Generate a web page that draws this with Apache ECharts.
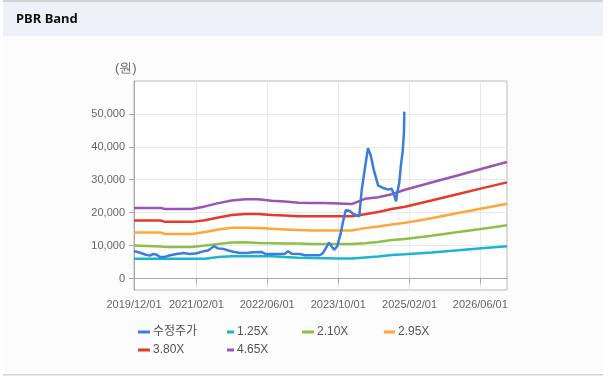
<!DOCTYPE html>
<html>
<head>
<meta charset="utf-8">
<script src="https://cdn.jsdelivr.net/npm/echarts@6/dist/echarts.min.js"></script>
<style>
html,body{margin:0;padding:0;background:#fff;}
#c{width:610px;height:381px;}
</style>
</head>
<body>
<div id="c"></div>
<script>
// ---- data ----
const seriesNames = ['수정주가', '1.25X', '2.10X', '2.95X', '3.80X', '4.65X'];
const xTickLabels = ['2019/12/01', '2021/02/01', '2022/06/01', '2023/10/01', '2025/02/01', '2026/06/01'];
const yTickValues = [0, 10000, 20000, 30000, 40000, 50000];

const priceDates = ['2019-12-01','2019-12-20','2020-01-12','2020-02-15','2020-03-19','2020-04-11','2020-05-04','2020-05-27','2020-06-30','2020-08-04','2020-09-19','2020-11-04','2020-12-19','2021-02-04','2021-03-19','2021-04-22','2021-06-01','2021-07-01','2021-08-04','2021-09-07','2021-10-11','2021-11-27','2022-01-12','2022-02-26','2022-04-22','2022-05-16','2022-06-19','2022-08-28','2022-10-01','2022-10-22','2022-11-15','2023-01-12','2023-02-15','2023-04-11','2023-05-27','2023-06-19','2023-07-16','2023-07-30','2023-08-16','2023-09-03','2023-09-24','2023-10-16','2023-11-04','2023-11-22','2023-12-19','2024-01-12','2024-02-22','2024-03-04','2024-03-10','2024-04-01','2024-04-22','2024-05-10','2024-06-01','2024-07-01','2024-08-04','2024-09-07','2024-10-01','2024-10-16','2024-11-01','2024-11-08','2024-11-22','2024-12-04','2024-12-16','2024-12-25','2024-12-27'];
const priceValues = [8300,8100,7800,7300,6950,7450,7250,6550,6550,7050,7450,7750,7450,7650,8250,8500,9800,9100,9000,8500,8100,7750,7750,7950,8050,7550,7450,7450,7550,8250,7550,7450,7050,7050,7050,7750,9800,10900,9800,8700,9800,13300,17500,20800,20500,19600,18900,19400,26900,33500,39600,37500,33000,28200,27500,27000,27300,25600,23400,26000,29000,34500,38600,44600,50700];

const bandDates = ['2019-12-01','2020-06-01','2020-07-01','2021-01-01','2021-04-01','2021-07-01','2021-10-01','2022-01-01','2022-04-01','2022-07-01','2022-10-01','2023-01-01','2023-04-01','2023-07-01','2023-10-01','2024-01-01','2024-04-01','2024-07-01','2024-10-01','2025-01-01','2025-07-01','2026-01-01','2026-07-01','2026-12-01'];
const band125 = [6000,6000,6000,6000,6000,6500,6750,6750,6750,6750,6500,6300,6200,6150,6100,6100,6400,6700,7100,7350,7900,8550,9250,9800];
const band210 = [10000,9700,9600,9600,10000,10500,10900,11000,10800,10700,10600,10600,10500,10500,10500,10500,10700,11100,11700,12000,13000,14100,15200,16150];
const band295 = [14000,14000,13500,13500,14100,14900,15400,15400,15300,15100,14900,14700,14600,14600,14600,14600,15300,15800,16400,16900,18300,19900,21400,22700];
const band380 = [17600,17600,17200,17200,17700,18500,19300,19600,19600,19300,19100,18900,18900,18900,18900,18900,19500,20200,21100,21800,23700,25650,27600,29200];
const band465 = [21400,21400,21100,21100,21900,22900,23700,24100,24100,23600,23400,23000,22900,22900,22800,22600,24200,24700,25600,26950,29150,31350,33550,35400];

const colors = ['#3b7dd8', '#1db4d0', '#8dbf4a', '#ffa63b', '#e6392d', '#9b55b3'];

// ---- helpers ----
function ts(s) { const p = s.split(/[-\/]/).map(Number); return Date.UTC(p[0], p[1] - 1, p[2]); }
function pad(n) { return n < 10 ? '0' + n : '' + n; }
function fmtDate(v) { const d = new Date(v); return d.getUTCFullYear() + '/' + pad(d.getUTCMonth() + 1) + '/' + pad(d.getUTCDate()); }
function zip(dates, vals) { return dates.map((d, i) => [ts(d), vals[i]]); }

const xTickValues = xTickLabels.map(ts);
const fontFam = "'Liberation Sans', Arial, 'Noto Sans CJK KR', sans-serif";

const bandVals = [band125, band210, band295, band380, band465];
const series = [];
bandVals.forEach((vals, i) => {
  series.push({
    name: seriesNames[i + 1], type: 'line', data: zip(bandDates, vals),
    showSymbol: false, symbol: 'none', lineStyle: { width: 2.5, color: colors[i + 1] },
    itemStyle: { color: colors[i + 1] }, z: 2, animation: false
  });
});
series.push({
  name: seriesNames[0], type: 'line', data: zip(priceDates, priceValues),
  showSymbol: false, symbol: 'none', lineStyle: { width: 2.5, color: colors[0] },
  itemStyle: { color: colors[0] }, z: 5, animation: false
});

const legendPos = [[138, 326, 12], [227, 326, 7], [302, 326, 12], [384, 326, 11], [138, 344, 12], [227, 344, 7]];
const legends = seriesNames.map((n, i) => ({
  data: [n], left: legendPos[i][0], top: legendPos[i][1],
  icon: 'rect', itemWidth: legendPos[i][2], itemHeight: 3, itemGap: 0, padding: 0,
  textStyle: { fontSize: 12, color: '#555', fontFamily: fontFam, padding: [0, 0, 0, -2] },
  selectedMode: false
}));

const chart = echarts.init(document.getElementById('c'), null, { renderer: 'canvas' });
chart.setOption({
  animation: false,
  backgroundColor: '#ffffff',
  title: {
    text: 'PBR Band', left: 16, top: 13, padding: 0,
    textStyle: { fontSize: 13, fontWeight: 'bold', color: '#111', fontFamily: "'Noto Sans', 'Noto Sans CJK KR', sans-serif" }
  },
  graphic: [
    { type: 'rect', z: -10, shape: { x: 3, y: 0, width: 600, height: 2 }, style: { fill: '#d2d2d2' }, silent: true },
    { type: 'rect', z: -10, shape: { x: 3, y: 2, width: 600, height: 34 }, style: { fill: '#eef2f8' }, silent: true },
    { type: 'rect', z: -10, shape: { x: 3, y: 36, width: 600, height: 339 }, style: { fill: '#fcfcfc' }, silent: true },
    { type: 'rect', z: -10, shape: { x: 3, y: 374, width: 600, height: 1.5 }, style: { fill: '#d2d2d2' }, silent: true },
    { type: 'text', left: 115, top: 62, z: 10, style: { text: '(원)', fontSize: 13, fill: '#666', font: "13px 'Noto Sans CJK KR', sans-serif" }, silent: true }
  ],
  legend: legends,
  grid: { left: 134, right: 103, top: 81, bottom: 91, show: true, backgroundColor: '#ffffff', borderColor: '#b8b8b8', borderWidth: 1 },
  xAxis: {
    type: 'value', min: ts('2019-12-01'), max: ts('2026-12-01'),
    axisLine: { show: true, lineStyle: { color: '#aaaaaa' } },
    axisTick: { show: true, length: 5, customValues: xTickValues, lineStyle: { color: '#aaaaaa' } },
    axisLabel: { customValues: xTickValues, formatter: v => fmtDate(v), fontSize: 11, color: '#666', margin: 9, fontFamily: fontFam, hideOverlap: false },
    splitLine: { show: true, lineStyle: { color: '#e8e8e8', width: 1 } }
  },
  yAxis: {
    type: 'value', min: -3500, max: 60000,
    axisLine: { show: true, lineStyle: { color: '#aaaaaa' } },
    axisTick: { show: true, length: 5, customValues: yTickValues, lineStyle: { color: '#aaaaaa' } },
    axisLabel: { customValues: yTickValues, formatter: v => v.toLocaleString('en-US'), fontSize: 11, color: '#666', margin: 9, fontFamily: fontFam },
    splitLine: { show: true, lineStyle: { color: '#e8e8e8', width: 1 } }
  },
  series: series
});
</script>
</body>
</html>
